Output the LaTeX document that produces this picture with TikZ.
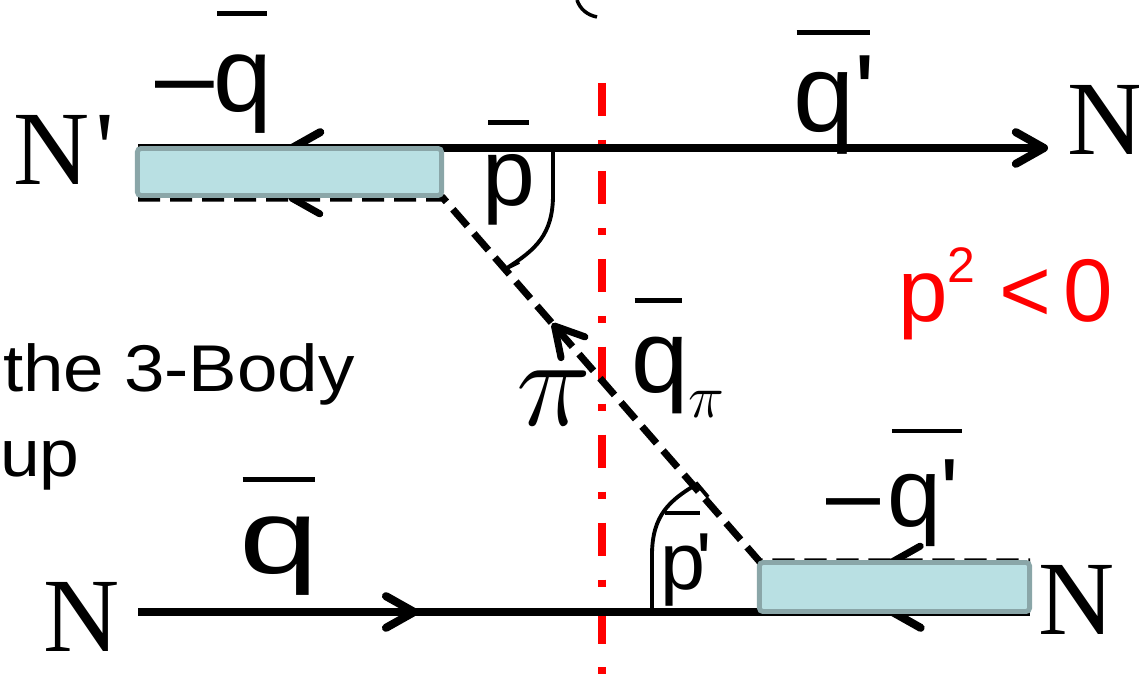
\documentclass[tikz,border=0pt]{standalone}
\usepackage{fontspec}
\setmainfont{Liberation Sans}
\newfontfamily\tms{Liberation Serif}
\usetikzlibrary{arrows.meta,decorations.markings}
\definecolor{boxfill}{HTML}{B9E0E3}
\definecolor{boxline}{HTML}{8AA6A8}
\definecolor{cutred}{HTML}{FF0000}
\newcommand\setfs[1]{\fontsize{#1}{#1}\selectfont}
\newcommand\barover[4]{\makebox[0pt][l]{\hspace*{#1}\rule[#2]{#3}{1.4pt}}#4}
\begin{document}
\begin{tikzpicture}[x=0.01cm,y=-0.01cm,
  barbtip/.tip={Straight Barb[length=8pt,width=9pt,round]},
  solidline/.style={line width=2.3pt},
  pionline/.style={line width=2pt, dash pattern=on 6.3pt off 2.8pt},
  cutline/.style={cutred, line width=2.2pt, dash pattern=on 9.4pt off 6.8pt on 2pt off 6.8pt},
  blob/.style={draw=boxline, fill=boxfill, line width=1.4pt, rounded corners=1pt, inner sep=0pt, outer sep=0pt},
  anglearc/.style={line width=1.1pt},
  lbl/.style={inner sep=0pt, outer sep=0pt, anchor=base west},
]
\useasboundingbox (0,0) rectangle (1139,677);
% coordinates
\coordinate (cutTop) at (602,83);
\coordinate (cutBot) at (602,677);
\coordinate (tl) at (138,148);
\coordinate (tr) at (1048,148);
\coordinate (pa) at (138,198);
\coordinate (pb) at (443,198);
\coordinate (pc) at (760,562);
\coordinate (pd) at (1030,562);
\coordinate (bl) at (138,612);
\coordinate (br) at (1030,612);
% cut line
\draw[cutline] (cutTop) -- (cutBot);
% lines
\draw[solidline, -{barbtip}, postaction={decorate},
  decoration={markings, mark=at position 1.5cm with {\arrowreversed{barbtip}}}] (tl) -- (tr);
\draw[pionline, postaction={decorate},
  decoration={markings,
    mark=at position 1.5cm with {\arrowreversed{barbtip}},
    mark=at position 4.71cm with {\arrowreversed{barbtip}},
    mark=at position 9.157cm with {\arrowreversed{barbtip}}}] (pa) -- (pb) -- (pc) -- (pd);
\draw[solidline, postaction={decorate},
  decoration={markings,
    mark=at position 2.8cm with {\arrow{barbtip}},
    mark=at position 7.5cm with {\arrowreversed{barbtip}}}] (bl) -- (br);
% blobs
\node[blob, minimum width=3.04cm, minimum height=0.47cm] (blobTop) at (289.5,172) {};
\node[blob, minimum width=2.7cm, minimum height=0.49cm] (blobBot) at (894.5,587) {};
% angle arcs
\coordinate (arcA0) at (553,148);
\coordinate (arcA1) at (507,268);
\draw[anglearc] (arcA0) -- (553,195) .. controls (553,235) and (535,250) .. (arcA1) -- (519,262);
\coordinate (arcB0) at (652,612);
\coordinate (arcB1) at (697,484);
\draw[anglearc] (arcB0) -- (652,555) .. controls (652,515) and (670,500) .. (arcB1) -- (708,497);
% paren fragment
\draw[line width=1pt] (577,0) .. controls (580,9) and (587,15) .. (597,17);
% labels
\node[lbl] (nTL) at (13,185) {\tms\setfs{30pt}N\hspace{1.7pt}\textquotesingle};
\node[lbl] (qTL) at (155,112) {\setfs{30pt}–\barover{1pt}{27.2pt}{14.2pt}{q}};
\node[lbl] (pT) at (482,206) {\setfs{27pt}\barover{1.8pt}{23pt}{11.7pt}{p}};
\node[lbl] (qTR) at (793,132) {\setfs{31.3pt}\barover{1pt}{27.7pt}{20.8pt}{q\textquotesingle}};
\node[lbl] (nTR) at (1067,155) {\tms\setfs{30pt}N};
\node[lbl, text=cutred] (pcond) at (898,322) {\setfs{25.3pt}p\raisebox{11.1pt}{\setfs{14.2pt}2}\hspace{6.8pt}<\hspace{3.4pt}0};
\node[lbl] (piL) at (516,426) {\scalebox{1.45}{\setfs{24.88pt}$\pi$}};
\node[lbl] (qpi) at (631,393) {\setfs{29.3pt}\barover{1pt}{25.5pt}{13.4pt}{q}\raisebox{-7.1pt}{\setfs{18pt}$\pi$}};
\node[lbl] (txt1) at (3,392) {\scalebox{1.1}[1]{\setfs{18.8pt}the 3-Body}};
\node[lbl] (txt2) at (0,477) {\scalebox{1.08}[1]{\setfs{18.8pt}up}};
\node[lbl] (qBL) at (239,574) {\setfs{30pt}\barover{1pt}{26.3pt}{20.5pt}{\scalebox{1.35}[1]{q}}};
\node[lbl] (nBL) at (43,652) {\tms\setfs{30pt}N};
\node[lbl] (qBR) at (826,527) {\setfs{27.6pt}–\hspace{2pt}\barover{1.4pt}{26.6pt}{19.9pt}{q\textquotesingle}};
\node[lbl] (pB) at (660,590) {\setfs{23pt}\barover{1.5pt}{21.2pt}{10pt}{p}\hspace{-2.5pt}\textquotesingle};
\node[lbl] (nBR) at (1038,635) {\tms\setfs{30pt}N};
\end{tikzpicture}
\end{document}
